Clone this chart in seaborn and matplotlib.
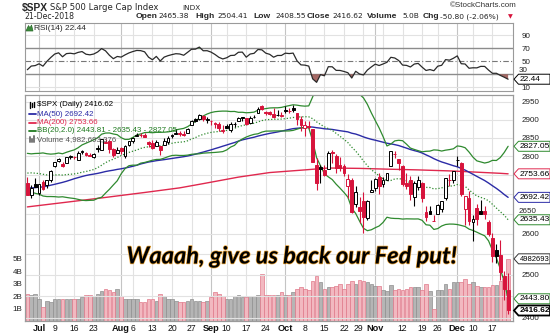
import numpy as np
import pandas as pd
import matplotlib
matplotlib.use("Agg")
import matplotlib.pyplot as plt
import seaborn as sns
from matplotlib.patches import Polygon
from matplotlib.lines import Line2D
from matplotlib.ticker import NullLocator, FixedLocator, FixedFormatter
import matplotlib.patheffects as pe

sns.set_theme(style="white")
plt.rcParams['font.family'] = ['Liberation Sans', 'DejaVu Sans']

# ---------------- data ----------------
dates = ["Jun27", "Jun28", "Jun29",
         "Jul2", "Jul3", "Jul5", "Jul6", "Jul9", "Jul10", "Jul11", "Jul12", "Jul13", "Jul16", "Jul17", "Jul18",
         "Jul19", "Jul20", "Jul23", "Jul24", "Jul25", "Jul26", "Jul27", "Jul30", "Jul31",
         "Aug1", "Aug2", "Aug3", "Aug6", "Aug7", "Aug8", "Aug9", "Aug10", "Aug13", "Aug14", "Aug15", "Aug16",
         "Aug17", "Aug20", "Aug21", "Aug22", "Aug23", "Aug24", "Aug27", "Aug28", "Aug29", "Aug30", "Aug31",
         "Sep4", "Sep5", "Sep6", "Sep7", "Sep10", "Sep11", "Sep12", "Sep13", "Sep14", "Sep17", "Sep18", "Sep19",
         "Sep20", "Sep21", "Sep24", "Sep25", "Sep26", "Sep27", "Sep28",
         "Oct1", "Oct2", "Oct3", "Oct4", "Oct5", "Oct8", "Oct9", "Oct10", "Oct11", "Oct12", "Oct15", "Oct16",
         "Oct17", "Oct18", "Oct19", "Oct22", "Oct23", "Oct24", "Oct25", "Oct26", "Oct29", "Oct30", "Oct31",
         "Nov1", "Nov2", "Nov5", "Nov6", "Nov7", "Nov8", "Nov9", "Nov12", "Nov13", "Nov14", "Nov15", "Nov16",
         "Nov19", "Nov20", "Nov21", "Nov23", "Nov26", "Nov27", "Nov28", "Nov29", "Nov30",
         "Dec3", "Dec4", "Dec6", "Dec7", "Dec10", "Dec11", "Dec12", "Dec13", "Dec14", "Dec17", "Dec18", "Dec19",
         "Dec20", "Dec21"]

opens = [2728.45, 2698.69, 2727.13,
         2704.95, 2733.27, 2724.19, 2737.68, 2775.62, 2788.56, 2779.82, 2783.14, 2796.93, 2797.36, 2789.34, 2811.35,
         2809.37, 2804.55, 2799.17, 2820.68, 2817.73, 2835.49, 2842.35, 2819.00, 2809.73,
         2821.17, 2800.48, 2829.62, 2840.29, 2855.92, 2856.79, 2857.19, 2838.90, 2835.46, 2827.88, 2827.95, 2831.44,
         2838.32, 2853.93, 2861.51, 2860.99, 2860.29, 2862.35, 2884.69, 2901.45, 2900.62, 2908.94, 2898.37,
         2896.96, 2891.59, 2888.64, 2868.26, 2881.39, 2871.57, 2888.29, 2896.85, 2906.38, 2903.83, 2890.74, 2906.60,
         2919.73, 2936.76, 2921.83, 2921.75, 2916.98, 2911.65, 2910.03,
         2926.29, 2923.80, 2931.69, 2919.35, 2902.54, 2877.53, 2882.51, 2873.90, 2776.87, 2770.54, 2763.83, 2767.05,
         2811.67, 2802.00, 2775.66, 2773.94, 2721.03, 2737.87, 2674.88, 2667.86, 2682.65, 2640.68, 2705.60,
         2717.58, 2745.45, 2726.37, 2738.40, 2774.13, 2806.38, 2794.10, 2773.93, 2730.05, 2737.90, 2693.52, 2718.54,
         2730.74, 2654.60, 2657.74, 2633.36, 2649.97, 2663.75, 2691.45, 2736.97, 2737.76,
         2790.50, 2782.43, 2663.51, 2691.26, 2630.86, 2664.44, 2658.23, 2658.70, 2629.68, 2590.75, 2559.90, 2547.05,
         2496.77, 2465.38]

highs = [2746.09, 2724.34, 2743.26,
         2727.26, 2736.58, 2737.83, 2764.41, 2784.65, 2795.58, 2785.91, 2799.22, 2804.53, 2801.19, 2814.19, 2816.76,
         2812.05, 2809.70, 2808.61, 2829.99, 2848.03, 2845.57, 2843.17, 2821.74, 2824.46,
         2825.83, 2829.91, 2840.38, 2853.29, 2863.43, 2862.44, 2862.48, 2842.20, 2843.40, 2843.11, 2827.95, 2850.49,
         2855.63, 2859.76, 2873.23, 2867.54, 2868.78, 2876.16, 2898.25, 2903.77, 2916.50, 2912.46, 2906.32,
         2900.18, 2894.21, 2892.05, 2883.81, 2886.93, 2892.52, 2894.65, 2906.76, 2908.30, 2904.65, 2911.17, 2912.36,
         2934.80, 2940.91, 2923.79, 2923.95, 2931.15, 2927.22, 2920.53,
         2937.06, 2931.42, 2939.86, 2919.78, 2909.64, 2894.83, 2894.83, 2874.02, 2795.14, 2775.77, 2775.99, 2813.46,
         2816.94, 2806.04, 2797.77, 2778.94, 2753.59, 2742.59, 2722.70, 2692.38, 2706.85, 2685.43, 2736.69,
         2741.67, 2756.55, 2744.27, 2756.82, 2815.15, 2814.75, 2794.10, 2775.99, 2754.60, 2746.80, 2735.38, 2746.75,
         2733.16, 2669.44, 2670.73, 2647.55, 2674.35, 2682.53, 2744.00, 2753.75, 2760.88,
         2800.18, 2785.93, 2696.15, 2708.54, 2647.51, 2674.35, 2685.44, 2670.19, 2635.07, 2601.13, 2573.99, 2585.29,
         2509.63, 2504.41]

lows = [2699.38, 2691.99, 2718.03,
        2698.95, 2711.16, 2716.02, 2733.52, 2770.73, 2786.24, 2770.77, 2781.53, 2791.69, 2793.39, 2789.24, 2805.89,
        2799.77, 2800.01, 2795.14, 2811.12, 2817.73, 2835.26, 2808.34, 2798.11, 2808.06,
        2805.85, 2796.34, 2827.37, 2835.98, 2855.92, 2853.09, 2851.98, 2825.81, 2819.88, 2826.58, 2802.49, 2831.44,
        2833.73, 2850.62, 2861.32, 2856.05, 2854.03, 2862.35, 2884.69, 2893.50, 2898.40, 2895.22, 2891.73,
        2885.13, 2876.92, 2867.29, 2864.12, 2875.94, 2866.78, 2879.20, 2896.39, 2895.77, 2886.16, 2890.43, 2903.82,
        2919.73, 2927.11, 2912.63, 2913.70, 2903.28, 2909.27, 2907.50,
        2917.91, 2919.37, 2921.36, 2883.92, 2869.29, 2855.04, 2874.27, 2784.86, 2710.51, 2729.44, 2749.03, 2766.91,
        2781.81, 2755.18, 2760.27, 2749.22, 2691.43, 2651.89, 2667.84, 2628.16, 2603.54, 2635.34, 2705.60,
        2708.85, 2700.44, 2717.94, 2737.08, 2774.13, 2794.99, 2764.24, 2722.00, 2714.98, 2685.75, 2670.75, 2712.16,
        2681.09, 2631.52, 2649.82, 2631.09, 2649.97, 2655.89, 2684.38, 2722.94, 2728.76,
        2773.38, 2697.18, 2621.53, 2623.14, 2583.23, 2621.30, 2650.26, 2637.27, 2593.84, 2530.54, 2528.71, 2488.96,
        2441.18, 2408.55]

closes = [2699.63, 2716.31, 2718.37,
          2726.71, 2713.22, 2736.61, 2759.82, 2784.17, 2793.84, 2774.02, 2798.29, 2801.31, 2798.43, 2809.55, 2815.62,
          2804.49, 2801.83, 2806.98, 2820.40, 2846.07, 2837.44, 2818.82, 2802.60, 2816.29,
          2813.36, 2827.22, 2840.35, 2850.40, 2858.45, 2857.70, 2853.58, 2833.28, 2821.93, 2839.96, 2818.37, 2840.69,
          2850.13, 2857.05, 2862.96, 2861.82, 2856.98, 2874.69, 2896.74, 2897.52, 2914.04, 2901.13, 2901.52,
          2896.72, 2888.60, 2878.05, 2871.68, 2877.13, 2887.89, 2888.92, 2904.18, 2904.98, 2888.80, 2904.31, 2907.95,
          2930.75, 2929.67, 2919.37, 2915.56, 2905.97, 2914.00, 2913.98,
          2924.59, 2923.43, 2925.51, 2901.61, 2885.57, 2884.43, 2880.34, 2785.68, 2728.37, 2767.13, 2750.79, 2809.92,
          2809.21, 2768.78, 2767.78, 2755.88, 2740.69, 2656.10, 2705.57, 2658.69, 2641.25, 2682.63, 2711.74,
          2740.37, 2723.06, 2738.31, 2755.45, 2813.89, 2806.83, 2781.01, 2726.22, 2722.18, 2701.58, 2730.20, 2736.27,
          2690.73, 2641.89, 2649.93, 2632.56, 2673.45, 2682.17, 2743.79, 2737.80, 2760.17,
          2790.37, 2700.06, 2695.95, 2633.08, 2637.72, 2636.78, 2651.07, 2650.54, 2599.95, 2545.94, 2546.16, 2506.96,
          2467.42, 2416.62]

# volume in billions of shares
volumes_b = [2.2, 2.1, 2.2,
             1.75, 1.15, 1.6, 1.5, 1.8, 1.75, 1.75, 1.8, 1.8, 1.8, 1.8, 1.9,
             2.1, 2.1, 2.0, 2.2, 2.4, 2.6, 2.5, 2.3, 2.6,
             2.0, 1.8, 1.75, 1.75, 1.75, 1.5, 1.5, 1.8, 1.8, 1.6, 2.2, 2.0,
             1.75, 1.75, 1.6, 1.5, 1.5, 1.6, 1.8, 1.6, 1.6, 1.5, 1.6,
             1.9, 2.3, 2.2, 2.0, 1.75, 1.8, 2.0, 2.1, 1.9, 1.9, 2.0, 2.0,
             2.1, 3.8, 2.1, 2.1, 2.1, 2.1, 2.3,
             2.1, 2.1, 2.3, 2.6, 2.7, 2.6, 2.5, 3.2, 3.6, 3.1, 2.6, 2.7,
             2.7, 2.8, 3.0, 2.6, 3.0, 3.2, 3.0, 3.3, 3.2, 3.1, 3.0,
             2.8, 2.8, 2.5, 2.4, 2.9, 2.5, 2.6, 2.5, 2.6, 2.7, 2.7, 2.7,
             2.5, 3.0, 2.4, 1.0, 2.5, 2.5, 3.0, 2.6, 3.1,
             3.1, 3.1, 3.4, 3.0, 3.1, 2.8, 2.7, 2.7, 2.7, 2.9, 2.9, 3.2,
             3.4, 4.98]

# closes before the visible window (Apr 18 .. Jun 26) used to warm up the indicators
pre_closes = [2708.64, 2693.13, 2670.14, 2670.29, 2634.56, 2639.40, 2666.94, 2669.91, 2648.05,
              2654.80, 2635.67, 2629.73, 2663.42, 2672.63, 2671.92, 2697.79, 2723.07, 2727.72, 2730.13,
              2711.45, 2722.46, 2720.13, 2712.97, 2733.01, 2724.44, 2733.29, 2727.76, 2721.33, 2689.86,
              2724.01, 2705.27,
              2734.62, 2746.87, 2748.80, 2772.35, 2770.37, 2779.03, 2782.00, 2786.85, 2775.63, 2782.49,
              2779.66, 2773.75, 2762.59, 2767.32, 2749.76, 2754.88, 2717.07, 2723.06]

# 200-day moving average (trading-day index, value)
ma200_idx = [0, 10, 19, 30, 39, 45, 54, 62, 71, 77, 85, 92, 100, 109, 115, 121, 123]
ma200_val = [2668, 2680, 2691, 2705, 2717, 2728, 2745, 2757, 2764, 2769, 2768, 2766, 2764, 2761, 2758, 2755, 2753.66]

tick_idx = [3, 7, 12, 17, 24, 27, 32, 37, 42, 47, 51, 56, 61, 66, 71, 76, 81, 86, 89, 91, 96, 101, 105,
            110, 114, 119]
tick_lbl = ["Jul", "9", "16", "23", "Aug", "6", "13", "20", "27", "Sep", "10", "17", "24", "Oct", "8", "15",
            "22", "29", "Nov", "", "12", "19", "26", "Dec", "10", "17"]
month_ticks = [3, 24, 47, 66, 89, 110]

price_ticks = [2400, 2450, 2500, 2550, 2600, 2650, 2700, 2750, 2800, 2850, 2900, 2950]
# labels hidden behind the value tags on the reference are left blank; 2650 is placed separately
price_lbls = ["2400", "", "2500", "", "2600", "", "", "", "2800", "2850", "2900", "2950"]
vol_ticks = [1, 2, 3, 4, 5]
rsi_ticks = [10, 30, 50, 70, 90]
rsi_lbls = ["10", "", "50", "70", "90"]

# ---------------- indicators ----------------
n = len(closes)
x = np.arange(n)
allc = pd.Series(pre_closes + closes)
npre = len(pre_closes)
mid = allc.rolling(20).mean()
sd = allc.rolling(20).std(ddof=0)
bb_mid = mid.values[npre:]
bb_up = (mid + 2 * sd).values[npre:]
bb_lo = (mid - 2 * sd).values[npre:]
ma50 = allc.rolling(50, min_periods=50).mean().values[npre:]

d = np.diff(allc.values)
g = np.clip(d, 0, None)
l = np.clip(-d, 0, None)
ag, al = g[:14].mean(), l[:14].mean()
rsi_all = [np.nan] * 15
for k in range(14, len(d)):
    ag = (ag * 13 + g[k]) / 14
    al = (al * 13 + l[k]) / 14
    rsi_all.append(100 - 100 / (1 + ag / al))
rsi = np.array(rsi_all)[npre:]

df = pd.DataFrame({"x": x, "open": opens, "high": highs, "low": lows, "close": closes,
                   "vol": np.array(volumes_b) * 1e9, "rsi": rsi,
                   "bb_up": bb_up, "bb_mid": bb_mid, "bb_lo": bb_lo})
df["ma50"] = ma50
prev = np.array([pre_closes[-1]] + closes[:-1])
up = np.array(closes) >= prev

# ---------------- layout ----------------
W, H = 550, 333
fig = plt.figure(figsize=(5.5, 3.33), dpi=100)
fig.patch.set_facecolor("white")


def rect(l_, t_, r_, b_):
    return [l_ / W, 1 - b_ / H, (r_ - l_) / W, (b_ - t_) / H]


def fx(p):
    return p / W


def fy(p):
    return 1 - p / H


ax_rsi = fig.add_axes(rect(25, 22.7, 513, 91))
ax_vol = fig.add_axes(rect(25, 95, 513, 321))
ax = fig.add_axes(rect(25, 95, 513, 321))
ax.patch.set_visible(False)

XL = (-0.6, n - 1 + 1.25)
RED = "#d7143c"
GRID = "#e2e2e2"
MGRID = "#c4c4c4"
FS = 5.8

for a in (ax_rsi, ax_vol, ax):
    a.set_xlim(*XL)
    for s in a.spines.values():
        s.set_color("#9a9a9a")
        s.set_linewidth(0.8)

# vertical grid
for a in (ax_rsi, ax_vol):
    for t in tick_idx:
        a.axvline(t, color=MGRID if t in month_ticks else GRID, lw=0.8, zorder=0)

# ---------------- RSI panel ----------------
ax_rsi.set_ylim(4.3, 109.4)
for lv in (10, 90):
    ax_rsi.axhline(lv, color=GRID, lw=0.8, zorder=0)
ax_rsi.axhline(70, color="#8c8c8c", lw=1.0, zorder=1)
ax_rsi.axhline(30, color="#8c8c8c", lw=1.0, zorder=1)
ax_rsi.axhline(50, color="#777777", lw=0.8, ls=(0, (5, 2, 1, 2)), zorder=1)
ax_rsi.fill_between(df["x"], df["rsi"], 30, where=df["rsi"] < 30, interpolate=True,
                    color="#9c5a55", alpha=0.9, lw=0, zorder=2)
ax_rsi.fill_between(df["x"], df["rsi"], 70, where=df["rsi"] > 70, interpolate=True,
                    color="#5a9c55", alpha=0.9, lw=0, zorder=2)
sns.lineplot(data=df, x="x", y="rsi", ax=ax_rsi, color="#2a2a2a", lw=0.9, zorder=3)
ax_rsi.set_xlabel("")
ax_rsi.set_ylabel("")
ax_rsi.set_xticks([])
ax_rsi.yaxis.tick_right()
ax_rsi.set_yticks(rsi_ticks)
ax_rsi.set_yticklabels(rsi_lbls)
ax_rsi.tick_params(axis="y", length=0, pad=6, labelsize=FS, labelcolor="#222")
ax_rsi.annotate("30", xy=(1, 30), xycoords=("axes fraction", "data"), xytext=(4.3, 2.6),
                textcoords="offset points", fontsize=FS, color="#222", va="center", ha="left")

# ---------------- volume ----------------
ax_vol.set_ylim(0, 18.1e9)
ax_vol.bar(df["x"][up], df["vol"][up], width=0.9, color="#b5b5b5", edgecolor="#8f8f8f", lw=0.5, zorder=1)
ax_vol.bar(df["x"][~up], df["vol"][~up], width=0.9, color="#f2b8c0", edgecolor="#e0788a", lw=0.5, zorder=1)
ax_vol.set_xticks([])
ax_vol.set_yticks([v * 1e9 for v in vol_ticks])
ax_vol.set_yticklabels([f"{v}B" for v in vol_ticks])
ax_vol.tick_params(axis="y", length=0, pad=2, labelsize=FS, labelcolor="#222")
ax_vol.set_facecolor("white")

# ---------------- price ----------------
ax.set_yscale("log")
ax.set_ylim(2392.5, 2969)
ax.yaxis.set_minor_locator(NullLocator())
ax.yaxis.set_major_locator(FixedLocator(price_ticks))
ax.yaxis.set_major_formatter(FixedFormatter(price_lbls))
ax.yaxis.tick_right()
ax.tick_params(axis="y", length=0, pad=6, labelsize=FS, labelcolor="#222")
ax.annotate("2650", xy=(1, 2650), xycoords=("axes fraction", "data"), xytext=(4.3, 2.0),
            textcoords="offset points", fontsize=FS, color="#222", va="center", ha="left")
for v in price_ticks:
    ax.axhline(v, color=GRID, lw=0.8, zorder=0.5)

sns.lineplot(x=ma200_idx, y=ma200_val, ax=ax, color="#e0284e", lw=1.0, zorder=2)
sns.lineplot(data=df, x="x", y="ma50", ax=ax, color="#2b2ba6", lw=1.0, zorder=2)
sns.lineplot(data=df, x="x", y="bb_up", ax=ax, color="#2f8a2f", lw=0.9, zorder=2)
sns.lineplot(data=df, x="x", y="bb_lo", ax=ax, color="#2f8a2f", lw=0.9, zorder=2)
sns.lineplot(data=df, x="x", y="bb_mid", ax=ax, color="#2f8a2f", lw=0.9, zorder=2, ls=(0, (1, 1.5)))

ccol = np.where(up, "black", RED)
hollow = np.array(closes) >= np.array(opens)
ax.vlines(df["x"], df["low"], df["high"], colors=ccol, lw=0.8, zorder=3)
body_lo = np.minimum(opens, closes)
body_h = np.maximum(np.abs(np.array(closes) - np.array(opens)), 0.8)
face = np.where(hollow, "white", ccol)
ax.bar(df["x"], body_h, bottom=body_lo, width=0.72, color=face, edgecolor=ccol, lw=0.7, zorder=4)

ax.set_xlabel("")
ax.set_ylabel("")
ax.set_xticks(tick_idx)
ax.set_xticklabels(tick_lbl)
ax.tick_params(axis="x", length=0, pad=2, labelsize=6.2, labelcolor="#111")
for t, lab in zip(ax.get_xticklabels(), tick_lbl):
    if lab in ("Jul", "Aug", "Sep", "Oct", "Nov", "Dec"):
        t.set_fontweight("bold")
        t.set_fontsize(6.6)
    if lab == "29":
        t.set_ha("right")

# ---------------- value tags ----------------
fig.canvas.draw()


def tag(a, val, text, color, bold=False, lw=0.7, fs=FS + 0.2):
    yd = a.transData.transform((0, val))[1]
    yp = H - yd * H / fig.bbox.height
    h = 5.0
    pts = [(514, yp), (518.5, yp - h), (550, yp - h), (550, yp + h), (518.5, yp + h)]
    poly = Polygon([(fx(px), fy(py)) for px, py in pts], closed=True, transform=fig.transFigure,
                   facecolor="white", edgecolor=color, lw=1.3 if bold else lw, zorder=5)
    fig.add_artist(poly)
    fig.text(fx(519.5), fy(yp + 0.2), text, transform=fig.transFigure, fontsize=fs, color="black",
             va="center", ha="left", fontweight="bold" if bold else "normal", zorder=6)


tag(ax, bb_up[-1], f"{bb_up[-1]:.2f}", "#2f8a2f")
tag(ax, ma200_val[-1], f"{ma200_val[-1]:.2f}", "#e0284e")
tag(ax, ma50[-1], f"{ma50[-1]:.2f}", "#2b2ba6")
tag(ax, bb_mid[-1], f"{bb_mid[-1]:.2f}", "#2f8a2f")
tag(ax_vol, volumes_b[-1] * 1e9, "4982693", "#333333", fs=5.5)
tag(ax, bb_lo[-1], f"{bb_lo[-1]:.2f}", "#2f8a2f")
tag(ax, closes[-1], f"{closes[-1]:.2f}", "black", bold=True)
tag(ax_rsi, rsi[-1], f"{rsi[-1]:.2f}", "black")

# ---------------- header ----------------
fig.text(fx(22), fy(7.8), "$SPX", fontsize=7.4, fontweight="bold", va="center")
fig.text(fx(50), fy(8.0), "S&P 500 Large Cap Index", fontsize=6.1, va="center", family="DejaVu Sans")
fig.text(fx(182), fy(8.0), "INDX", fontsize=5.2, va="center", family="DejaVu Sans")
fig.text(fx(517), fy(5.5), "\u00a9StockCharts.com", fontsize=5.8, va="center", ha="right", color="#333")
fig.text(fx(24), fy(16.5), "21-Dec-2018", fontsize=5.6, va="center", family="DejaVu Sans")
pieces = [("Open", 136, True), ("2465.38", 158, False), ("High", 195, True), ("2504.41", 217, False),
          ("Low", 253, True), ("2408.55", 275, False), ("Close", 307, True), ("2416.62", 332, False),
          ("Volume", 367, True), ("5.0B", 402, False), ("Chg", 423, True), ("-50.80 (-2.06%)", 440, False)]
for txt, px, b in pieces:
    if b:
        fig.text(fx(px), fy(16.5), txt, fontsize=6.1, fontweight="bold", va="center")
    else:
        fig.text(fx(px), fy(16.5), txt, fontsize=5.4, va="center", color="#222", family="DejaVu Sans")
fig.text(fx(508), fy(16.5), "\u25bc", fontsize=4.5, va="center", color=RED, family="DejaVu Sans")

# RSI label
fig.add_artist(Polygon([(fx(26), fy(31)), (fx(28.5), fy(25.5)), (fx(30), fy(28)), (fx(31.5), fy(25)),
                        (fx(33), fy(31))], closed=True, transform=fig.transFigure,
                       facecolor="#3c8c3c", edgecolor="#2a6a2a", lw=0.5))
fig.text(fx(34), fy(28.3), "RSI(14) 22.44", fontsize=6.0, va="center")

# price legend
leg = [("$SPX (Daily) 2416.62", "black", 105),
       ("MA(50) 2692.42", "#2b2ba6", 114),
       ("MA(200) 2753.66", "#e0284e", 122.5),
       ("BB(20,2.0) 2443.81 - 2635.43 - 2827.05", "#1f7a1f", 131),
       ("Volume 4,982,693,376", "#555555", 139.5)]
for i, (txt, col, py) in enumerate(leg):
    fig.text(fx(37), fy(py), txt, fontsize=5.7, color=col, va="center", zorder=6)
    if i in (1, 2, 3):
        fig.add_artist(Line2D([fx(28.5), fx(36)], [fy(py), fy(py)], transform=fig.transFigure,
                              color=col, lw=1.3))
# small icons for price and volume
for k, (h0, h1) in enumerate([(102, 108), (103, 107), (101.5, 106.5)]):
    fig.add_artist(Line2D([fx(29.5 + 2.3 * k)] * 2, [fy(h0), fy(h1)], transform=fig.transFigure,
                          color="black", lw=1.0))
for k, h0 in enumerate([137, 138.5, 136]):
    fig.add_artist(Line2D([fx(29.5 + 2.3 * k)] * 2, [fy(h0), fy(142)], transform=fig.transFigure,
                          color="#777", lw=1.4))

# annotation
fig.text(fx(291.5), fy(263.5), "Waaah, give us back our Fed put!", fontsize=17, family="Lato",
         fontweight="bold", fontstyle="italic", ha="center", va="baseline", color="black",
         path_effects=[pe.withStroke(linewidth=1.0, foreground="#f0a838")])

fig.savefig("out.png", dpi=100, facecolor="white")
